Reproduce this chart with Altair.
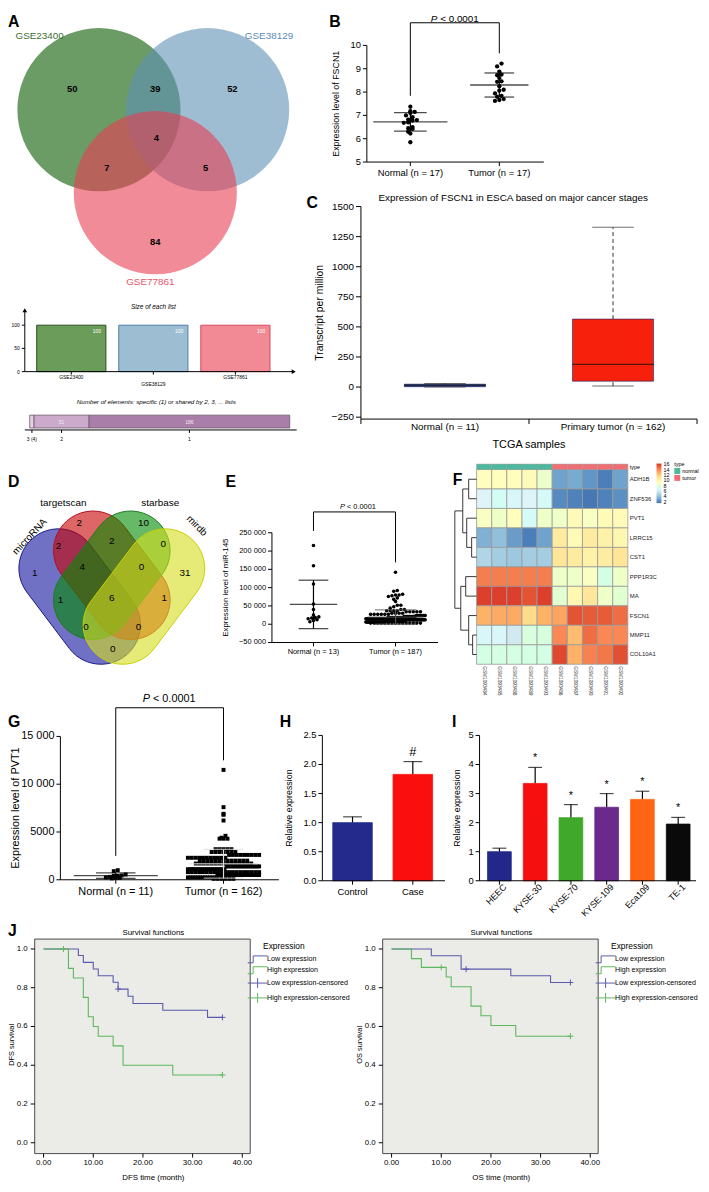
import altair as alt
import numpy as np
import pandas as pd

# ============================ DATA ============================
# A: three GEO datasets
venn3_sets = ["GSE23400", "GSE38129", "GSE77861"]
venn3_region_counts = [50, 39, 52, 4, 7, 5, 84]
list_sizes = [100, 100, 100]
size_ticks = [0, 50, 100]
shared_by = ["3", "2", "1"]
shared_tick_labels = ["3 (4)", "2", "1"]
shared_counts = [4, 51, 186]

# B: FSCN1 expression
fscn1_groups = ["Normal (n = 17)", "Tumor (n = 17)"]
fscn1_normal = [7.37, 7.18, 7.15, 7.10, 7.00, 6.92, 6.82, 6.80, 6.78, 6.70, 6.68, 6.50, 6.45, 6.42, 6.30, 6.22, 5.85]
fscn1_tumor = [9.22, 9.10, 8.88, 8.75, 8.72, 8.60, 8.46, 8.44, 8.25, 8.10, 8.06, 7.94, 7.84, 7.80, 7.70, 7.66, 7.62]
fscn1_ticks = [5, 6, 7, 8, 9, 10]
fscn1_tick_labels = ["5", "6", "7", "8", "9", "10"]

# C: TCGA box plot statistics
tcga_groups = ["Normal (n = 11)", "Primary tumor (n = 162)"]
tcga_min = [1, 8]
tcga_q1 = [3, 49]
tcga_median = [16, 189]
tcga_q3 = [24, 565]
tcga_max = [30, 1328]
tcga_ticks = [-250, 0, 250, 500, 750, 1000, 1250, 1500]
tcga_tick_labels = ["\u2212250", "0", "250", "500", "750", "1000", "1250", "1500"]

# D: four prediction databases
venn4_sets = ["microRNA", "targetscan", "starbase", "mirdb"]
venn4_region_counts = [1, 2, 10, 31, 2, 2, 0, 4, 0, 1, 6, 1, 0, 0, 0]

# E: miR-145
mir_groups = ["Normal (n = 13)", "Tumor (n = 187)"]
mir_normal = [215000, 160000, 110000, 55000, 40000, 25000, 20000, 18000, 17000, 15000, 12000, 10000, 7000]
mir_tumor_levels = [142000, 92000, 90000, 82000, 80000, 78000, 76000, 72000, 68000, 62000,
                    52000, 48000, 44000, 40000, 37000, 34000, 30000,
                    27000, 24000, 21000, 18000, 15000, 12000, 9000, 6000, 3000]
mir_tumor_counts = [1, 1, 1, 1, 2, 1, 1, 1, 1, 1,
                    2, 1, 1, 2, 4, 5, 4,
                    6, 10, 12, 16, 22, 26, 26, 24, 15]
mir_ticks = [-50000, 0, 50000, 100000, 150000, 200000, 250000]
mir_tick_labels = ["\u221250 000", "0", "50 000", "100 000", "150 000", "200 000", "250 000"]

# F: heatmap
heat_genes = ["ADH1B", "ZNF536", "PVT1", "LRRC15", "CST1", "PPP1R3C", "MA", "FSCN1", "MMP11", "COL10A1"]
heat_samples = ["GSM1093484", "GSM1093485", "GSM1093488", "GSM1093489", "GSM1093493",
                "GSM1093486", "GSM1093487", "GSM1093490", "GSM1093491", "GSM1093492"]
heat_types = ["normal", "normal", "normal", "normal", "normal", "tumor", "tumor", "tumor", "tumor", "tumor"]
heat_values = [
    [9.0, 9.0, 9.0, 9.3, 8.5, 3.0, 3.3, 2.6, 1.8, 3.0],
    [6.5, 7.2, 6.8, 6.6, 7.0, 2.2, 1.9, 1.6, 1.9, 2.4],
    [8.8, 8.6, 9.0, 7.0, 8.6, 8.6, 9.3, 8.8, 9.3, 9.3],
    [3.5, 4.0, 2.8, 1.8, 3.0, 10.5, 9.3, 10.5, 10.0, 9.6],
    [5.0, 4.6, 4.4, 4.6, 4.6, 11.0, 10.5, 10.0, 10.4, 11.0],
    [14.3, 14.3, 14.3, 14.3, 14.3, 8.6, 8.6, 8.8, 7.8, 8.6],
    [16.0, 16.0, 16.0, 15.5, 16.0, 8.3, 9.5, 10.8, 8.6, 8.3],
    [12.8, 13.0, 13.0, 11.5, 12.8, 13.2, 15.5, 15.3, 15.3, 14.8],
    [6.8, 6.8, 6.0, 8.0, 8.0, 14.0, 12.5, 14.8, 14.0, 14.0],
    [7.8, 7.8, 7.8, 7.8, 7.8, 15.8, 12.8, 14.2, 14.5, 15.6],
]
heat_legend_values = [2, 4, 6, 8, 10, 12, 14, 16]
# row dendrogram merges: (cluster a, cluster b, height)
dendro_merges = [(0, 1, 8), (3, 4, 5), (2, 11, 10), (10, 12, 14), (8, 9, 4),
                 (7, 14, 8), (5, 6, 11), (16, 15, 16), (13, 17, 22)]

# G: PVT1
pvt1_groups = ["Normal (n = 11)", "Tumor (n = 162)"]
pvt1_normal = [1000, 900, 550, 450, 400, 400, 300, 250, 200, 200, 150]
pvt1_tumor_levels = [11500, 7600, 6900, 6800, 6200, 4600, 4400, 4300, 3200, 2900,
                     2600, 2300, 2000, 1700, 1400, 1100, 800, 500, 250, 100]
pvt1_tumor_counts = [1, 1, 1, 1, 1, 1, 1, 3, 5, 7,
                     9, 11, 13, 15, 17, 19, 20, 18, 12, 6]
pvt1_ticks = [0, 5000, 10000, 15000]
pvt1_tick_labels = ["0", "5000", "10 000", "15 000"]

# H
h_groups = ["Control", "Case"]
h_means = [1.0, 1.83]
h_errors = [0.10, 0.22]
h_marks = ["", "#"]
h_ticks = [0, 0.5, 1.0, 1.5, 2.0, 2.5]
h_tick_labels = ["0.0", "0.5", "1.0", "1.5", "2.0", "2.5"]

# I
i_lines = ["HEEC", "KYSE-30", "KYSE-70", "KYSE-109", "Eca109", "TE-1"]
i_means = [1.0, 3.35, 2.17, 2.53, 2.80, 1.95]
i_errors = [0.12, 0.55, 0.45, 0.47, 0.28, 0.23]
i_marks = ["", "*", "*", "*", "*", "*"]
i_ticks = [0, 1, 2, 3, 4, 5]
i_tick_labels = ["0", "1", "2", "3", "4", "5"]

# J: Kaplan-Meier
km_groups = ["Low expression", "High expression"]
km_legend = ["Low expression", "High expression", "Low expression-censored", "High expression-censored"]
km_x_ticks = [0, 10, 20, 30, 40]
km_x_tick_labels = ["0.00", "10.00", "20.00", "30.00", "40.00"]
km_y_ticks = [0.0, 0.2, 0.4, 0.6, 0.8, 1.0]
km_y_tick_labels = ["0.0", "0.2", "0.4", "0.6", "0.8", "1.0"]
dfs_low_t = [0, 7, 8, 10, 11, 14, 15, 17, 18, 24, 33, 36]
dfs_low_s = [1.0, 0.966, 0.931, 0.897, 0.862, 0.828, 0.793, 0.756, 0.719, 0.684, 0.647, 0.647]
dfs_high_t = [0, 5, 6, 8, 9, 10, 11, 14, 16, 26, 36]
dfs_high_s = [1.0, 0.90, 0.85, 0.75, 0.65, 0.60, 0.55, 0.50, 0.40, 0.35, 0.35]
dfs_low_cens_t = [15, 36]
dfs_low_cens_s = [0.793, 0.647]
dfs_high_cens_t = [4, 36]
dfs_high_cens_s = [1.0, 0.35]
os_low_t = [0, 8, 14, 24, 32, 36]
os_low_s = [1.0, 0.965, 0.896, 0.862, 0.827, 0.827]
os_high_t = [0, 4, 6, 11, 12, 16, 18, 20, 25, 36]
os_high_s = [1.0, 0.95, 0.905, 0.855, 0.805, 0.705, 0.655, 0.605, 0.55, 0.55]
os_low_cens_t = [15, 36]
os_low_cens_s = [0.896, 0.827]
os_high_cens_t = [10, 36]
os_high_cens_s = [0.905, 0.55]

# ============================ LAYOUT / STYLE ============================
FONT = "Liberation Sans"
W, H = 701, 1184


def X(v):
    return v - 8


def Y(v):
    return v - 8


ONE = pd.DataFrame({"a": [0]})


def note(text, x, y, size=10, color="black", **kw):
    return alt.Chart(pd.DataFrame({"t": [text]})).mark_text(
        font=FONT, fontSize=size, color=color, **kw).encode(
        x=alt.value(X(x)), y=alt.value(Y(y)), text="t:N")


def p_note(cx, y, size):
    # "P < 0.0001" with an italic P, centred at cx
    total = 4.865 * size
    start = cx - total / 2
    return [note("P", start, y, size=size, align="left", fontStyle="italic"),
            note("< 0.0001", start + 0.945 * size, y, size=size, align="left")]


def hline(x0, x1, y, color="black", width=1):
    return alt.Chart(ONE).mark_rule(color=color, strokeWidth=width).encode(
        x=alt.value(X(x0)), x2=alt.value(X(x1)), y=alt.value(Y(y)))


def vline(x, y0, y1, color="black", width=1):
    return alt.Chart(ONE).mark_rule(color=color, strokeWidth=width).encode(
        x=alt.value(X(x)), y=alt.value(Y(y0)), y2=alt.value(Y(y1)))


def yaxis(scale, values, labels, xp, ytop, ybot, tick=4, pad=2, fs=10, domain=True, vtype="Q"):
    df = pd.DataFrame({"tv": values, "tl": labels})
    out = []
    if domain:
        out.append(vline(xp, ytop, ybot))
    out.append(alt.Chart(df).mark_rule(color="black", strokeWidth=1).encode(
        y=alt.Y(f"tv:{vtype}", scale=scale, axis=None), x=alt.value(X(xp) - tick), x2=alt.value(X(xp))))
    out.append(alt.Chart(df).mark_text(font=FONT, fontSize=fs, align="right", baseline="middle",
                                       color="black").encode(
        y=alt.Y(f"tv:{vtype}", scale=scale, axis=None), x=alt.value(X(xp) - tick - pad), text="tl:N"))
    return out


def xaxis(scale, values, labels, yp, x0, x1, tick=4, pad=2, fs=10, domain=True, vtype="Q", angle=0,
          align="center", baseline="top", dx=0, ticks=True):
    df = pd.DataFrame({"tv": values, "tl": labels})
    out = []
    if domain:
        out.append(hline(x0, x1, yp))
    if ticks:
        out.append(alt.Chart(df).mark_rule(color="black", strokeWidth=1).encode(
            x=alt.X(f"tv:{vtype}", scale=scale, axis=None), y=alt.value(Y(yp)), y2=alt.value(Y(yp) + tick)))
    out.append(alt.Chart(df).mark_text(font=FONT, fontSize=fs, align=align, baseline=baseline, angle=angle,
                                       dx=dx, color="black").encode(
        x=alt.X(f"tv:{vtype}", scale=scale, axis=None), y=alt.value(Y(yp) + (tick if ticks else 0) + pad),
        text="tl:N"))
    return out


def ytitle(text, x, y, size=10):
    return note(text, x, y, size=size, angle=270)


def swarm(values, px_per_unit, dia, half_width):
    v = np.asarray(values, float)
    b = np.floor(v * px_per_unit / dia + 0.5)
    off = np.zeros(len(v))
    for key in np.unique(b):
        idx = np.where(b == key)[0]
        idx = idx[np.argsort(v[idx], kind="stable")]
        n = len(idx)
        if n > 1:
            step = min(dia, 2 * half_width / (n - 1))
            off[idx] = (np.arange(n) - (n - 1) / 2) * step
    return off


# ---------------- Panel A: Venn ----------------
def panel_A_venn():
    R = 82.5
    cx0, cy0 = 100, 104
    xs = alt.Scale(domain=[-1, 1], range=[X(cx0 - R), X(cx0 + R)], nice=False, zero=False)
    ys = alt.Scale(domain=[-1, 1], range=[Y(cy0 + R), Y(cy0 - R)], nice=False, zero=False)
    circ = pd.DataFrame({"set": venn3_sets, "cx": [0.0, 1.333, 0.691], "cy": [0.0, 0.0, -1.018]})
    circles = alt.Chart(circ).mark_circle(size=(2 * R) ** 2, opacity=0.6).encode(
        x=alt.X("cx:Q", scale=xs, axis=None), y=alt.Y("cy:Q", scale=ys, axis=None),
        color=alt.Color("set:N", scale=alt.Scale(domain=venn3_sets, range=["#0a5a00", "#5d91b6", "#e93e53"]),
                        legend=None))
    reg = pd.DataFrame({"n": venn3_region_counts,
                        "ux": [-0.327, 0.691, 1.636, 0.703, 0.097, 1.309, 0.691],
                        "uy": [0.255, 0.255, 0.255, -0.352, -0.715, -0.715, -1.624]})
    nums = alt.Chart(reg).mark_text(font=FONT, fontSize=9.5, fontWeight="bold", color="black").encode(
        x=alt.X("ux:Q", scale=xs, axis=None), y=alt.Y("uy:Q", scale=ys, axis=None), text="n:Q")
    labs = pd.DataFrame({"set": venn3_sets, "ux": [-0.727, 2.085, 0.63], "uy": [0.897, 0.897, -2.109]})
    names = alt.Chart(labs).mark_text(font=FONT, fontSize=10).encode(
        x=alt.X("ux:Q", scale=xs, axis=None), y=alt.Y("uy:Q", scale=ys, axis=None), text="set:N",
        color=alt.Color("set:N", scale=alt.Scale(domain=venn3_sets, range=["#3f6e33", "#5b8db5", "#e4566c"]),
                        legend=None))
    return alt.layer(circles, nums, names).resolve_scale(color="independent")


def panel_A_sizes():
    xs = alt.Scale(type="band", domain=venn3_sets, range=[X(25), X(297)], paddingInner=0,
                   paddingOuter=0.1386, align=0.24)
    ys = alt.Scale(domain=[0, 132], range=[Y(369), Y(307)], nice=False, zero=False)
    df = pd.DataFrame({"set": venn3_sets, "size": list_sizes})
    bars = alt.Chart(df).mark_bar(size=70, strokeWidth=1).encode(
        x=alt.X("set:N", scale=xs, axis=None),
        y=alt.Y("size:Q", scale=ys, axis=None),
        fill=alt.Fill("set:N", scale=alt.Scale(domain=venn3_sets, range=["#6c9c5a", "#9dbdd3", "#f28a96"]),
                      legend=None),
        stroke=alt.Stroke("set:N", scale=alt.Scale(domain=venn3_sets, range=["#274d1c", "#4d7ea8", "#d8485e"]),
                          legend=None))
    lbl = alt.Chart(df).mark_text(font=FONT, fontSize=5, color="white", dx=26, dy=6).encode(
        x=alt.X("set:N", scale=xs, axis=None), y=alt.Y("size:Q", scale=ys, axis=None), text="size:Q")
    up = alt.Chart(ONE).mark_point(shape="triangle-up", filled=True, size=22, color="black", opacity=1).encode(
        x=alt.value(X(25)), y=alt.value(Y(307)))
    right = alt.Chart(ONE).mark_point(shape="triangle-right", filled=True, size=22, color="black",
                                      opacity=1).encode(x=alt.value(X(297)), y=alt.value(Y(369)))
    yax = yaxis(ys, size_ticks, [str(v) for v in size_ticks], 25, 307, 369, tick=3, pad=2, fs=5)
    xdf = pd.DataFrame({"tv": venn3_sets})
    xline = hline(25, 297, 369)
    xt = alt.Chart(xdf).mark_rule(color="black").encode(
        x=alt.X("tv:N", scale=xs, axis=None), y=alt.value(Y(369)), y2=alt.value(Y(372)))
    xl1 = alt.Chart(xdf).transform_filter("datum.tv != 'GSE38129'").mark_text(
        font=FONT, fontSize=5, baseline="top", color="black").encode(
        x=alt.X("tv:N", scale=xs, axis=None), y=alt.value(Y(372)), text="tv:N")
    xl2 = alt.Chart(xdf).transform_filter("datum.tv == 'GSE38129'").mark_text(
        font=FONT, fontSize=5, baseline="top", color="black").encode(
        x=alt.X("tv:N", scale=xs, axis=None), y=alt.value(Y(380)), text="tv:N")
    return alt.layer(bars, lbl, up, right, *yax, xline, xt, xl1, xl2)


def panel_A_shared():
    xs = alt.Scale(domain=[0, sum(shared_counts)], range=[X(30), X(293)], nice=False, zero=False)
    ys = alt.Scale(type="band", domain=["n"], range=[Y(413), Y(426)], paddingInner=0, paddingOuter=0)
    df = pd.DataFrame({"lvl": shared_by, "tick": shared_tick_labels, "cnt": shared_counts,
                       "ord": [0, 1, 2], "row": ["n", "n", "n"]})
    base = alt.Chart(df).transform_stack(
        stack="cnt", groupby=["row"], as_=["s0", "s1"], sort=[alt.SortField("ord", order="ascending")]
    ).transform_calculate(mid="(datum.s0 + datum.s1) / 2")
    bars = base.mark_bar(stroke="#6b566b", strokeWidth=0.8).encode(
        x=alt.X("s0:Q", scale=xs, axis=None), x2="s1:Q", y=alt.Y("row:N", scale=ys, axis=None),
        color=alt.Color("lvl:N", scale=alt.Scale(domain=shared_by, range=["#e3d0e2", "#ccaacb", "#a97ea8"]),
                        legend=None))
    txt = base.transform_filter("datum.cnt > 10").mark_text(font=FONT, fontSize=5, color="#f5eaf5").encode(
        x=alt.X("mid:Q", scale=xs, axis=None), y=alt.Y("row:N", scale=ys, axis=None), text="cnt:Q")
    line = hline(25, 300, 428)
    ticks = base.mark_rule(color="black", strokeWidth=1).encode(
        x=alt.X("mid:Q", scale=xs, axis=None), y=alt.value(Y(428)), y2=alt.value(Y(431)))
    tl = base.mark_text(font=FONT, fontSize=5, color="black").encode(
        x=alt.X("mid:Q", scale=xs, axis=None), y=alt.value(Y(437)), text="tick:N")
    return alt.layer(bars, txt, line, ticks, tl)


# ---------------- dot plots (B, E, G) ----------------
def dot_panel(p):
    g0, g1 = p["centers"]
    ppx = g1 - g0
    xa, xb = p["xspan"]
    ylo, yhi = p["ydom"]
    yb, yt = p["ypix"]
    ppy = (yb - yt) / (yhi - ylo)
    xs = alt.Scale(domain=[(xa - g0) / ppx, (xb - g0) / ppx], range=[X(xa), X(xb)], nice=False, zero=False)
    ys = alt.Scale(domain=[ylo, yhi], range=[Y(yb), Y(yt)], nice=False, zero=False)
    recs = []
    for gi, vals in enumerate(p["samples"]):
        off = swarm(vals, ppy, p["dia"], p["half"][gi])
        for v, o in zip(vals, off):
            recs.append({"g": gi, "v": float(v), "xo": gi + o / ppx})
    df = pd.DataFrame(recs)
    pts = getattr(alt.Chart(df), p["mark"])(size=p["msize"], color="black", opacity=1).encode(
        x=alt.X("xo:Q", scale=xs, axis=None), y=alt.Y("v:Q", scale=ys, axis=None))
    stats = alt.Chart(df).transform_aggregate(
        m="mean(v)", s="stdev(v)", groupby=["g"]).transform_calculate(
        lo="datum.m - datum.s", hi="datum.m + datum.s")
    lc = alt.condition("datum.g == 0", alt.value(p["lc"][0]), alt.value(p["lc"][1]))
    xg = alt.X("g:Q", scale=xs, axis=None)
    vl = stats.mark_rule(strokeWidth=1.2).encode(x=xg, y=alt.Y("lo:Q", scale=ys, axis=None), y2="hi:Q", color=lc)
    mean_t = stats.mark_tick(orient="horizontal", thickness=1.4).encode(
        x=xg, y=alt.Y("m:Q", scale=ys, axis=None), color=lc,
        size=alt.condition("datum.g == 0", alt.value(p["meanw"][0]), alt.value(p["meanw"][1])))
    lo_t = stats.mark_tick(orient="horizontal", thickness=1.3).encode(
        x=xg, y=alt.Y("lo:Q", scale=ys, axis=None), color=lc,
        size=alt.condition("datum.g == 0", alt.value(p["capw"][0]), alt.value(p["capw"][1])))
    hi_t = stats.mark_tick(orient="horizontal", thickness=1.3).encode(
        x=xg, y=alt.Y("hi:Q", scale=ys, axis=None), color=lc,
        size=alt.condition("datum.g == 0", alt.value(p["capw"][0]), alt.value(p["capw"][1])))
    leg0, top, leg1 = p["bracket"]
    dfb = pd.DataFrame({"bx": [0, 0, 1, 1], "by": [leg0, top, top, leg1], "o": [0, 1, 2, 3]})
    br = alt.Chart(dfb).mark_line(color="black", strokeWidth=1).encode(
        x=alt.X("bx:Q", scale=xs, axis=None), y=alt.Y("by:Q", scale=ys, axis=None), order="o:Q")
    yax = yaxis(ys, p["yticks"], p["ylabels"], xa, yt, yb, tick=4, pad=2, fs=p["fs"])
    xax = xaxis(xs, [0, 1], p["names"], yb, xa, xb, tick=4, pad=2, fs=p["fs"])
    title = ytitle(p["ytitle"], p["tx"], (yb + yt) / 2, size=p["tfs"])
    return alt.layer(pts, vl, mean_t, lo_t, hi_t, br, *yax, *xax, title)


def panel_B():
    return dot_panel(dict(
        samples=[fscn1_normal, fscn1_tumor], names=fscn1_groups, centers=(415, 505), xspan=(371, 550),
        ydom=(5, 10), ypix=(157, 39), yticks=fscn1_ticks, ylabels=fscn1_tick_labels, fs=9.5, tfs=9, tx=340,
        ytitle="Expression level of FSCN1", mark="mark_circle", msize=19, dia=4.4, half=(12, 12),
        meanw=(75, 59), capw=(33, 30), lc=("black", "black"), bracket=(7.84, 10.97, 9.66)))


def panel_E():
    tumor = np.repeat(mir_tumor_levels, mir_tumor_counts).tolist()
    return dot_panel(dict(
        samples=[mir_normal, tumor], names=mir_groups, centers=(317, 400), xspan=(275, 443),
        ydom=(-50000, 250000), ypix=(643, 532), yticks=mir_ticks, ylabels=mir_tick_labels,
        fs=7.5, tfs=8, tx=229, ytitle="Expression level of miR-145", mark="mark_circle", msize=13,
        dia=3.6, half=(12, 30), meanw=(48, 57), capw=(30, 42), lc=("black", "#555555"),
        bracket=(255000, 307000, 169000)))


def panel_G():
    tumor = np.repeat(pvt1_tumor_levels, pvt1_tumor_counts).tolist()
    return dot_panel(dict(
        samples=[pvt1_normal, tumor], names=pvt1_groups, centers=(117, 226), xspan=(61, 282),
        ydom=(0, 15000), ypix=(883, 738), yticks=pvt1_ticks, ylabels=pvt1_tick_labels,
        fs=11, tfs=11, tx=16, ytitle="Expression level of PVT1", mark="mark_square", msize=16,
        dia=4.0, half=(28, 36), meanw=(85, 70), capw=(40, 40), lc=("black", "#dddddd"),
        bracket=(2500, 18000, 12500)))


# ---------------- Panel C: boxplot ----------------
def panel_C():
    xs = alt.Scale(type="band", domain=tcga_groups, range=[X(365), X(705)], paddingInner=0, paddingOuter=0)
    ys = alt.Scale(domain=[-266, 1500], range=[Y(417), Y(202)], nice=False, zero=False)
    df = pd.DataFrame({"grp": tcga_groups, "lo": tcga_min, "q1": tcga_q1, "med": tcga_median,
                       "q3": tcga_q3, "hi": tcga_max})
    fill = alt.Color("grp:N", scale=alt.Scale(domain=tcga_groups, range=["#28357e", "#f7200d"]), legend=None)
    xg = alt.X("grp:N", scale=xs, axis=None)
    box = alt.Chart(df).mark_bar(size=82, stroke="#1b2466", strokeWidth=0.6).encode(
        x=xg, y=alt.Y("q1:Q", scale=ys, axis=None), y2="q3:Q", color=fill)
    up = alt.Chart(df).mark_rule(strokeDash=[4, 3], color="#333333", strokeWidth=1).encode(
        x=xg, y=alt.Y("q3:Q", scale=ys, axis=None), y2="hi:Q")
    dn = alt.Chart(df).mark_rule(strokeDash=[4, 3], color="#333333", strokeWidth=1).encode(
        x=xg, y=alt.Y("lo:Q", scale=ys, axis=None), y2="q1:Q")
    cap_hi = alt.Chart(df).mark_tick(orient="horizontal", size=42, thickness=1, color="#333333").encode(
        x=xg, y=alt.Y("hi:Q", scale=ys, axis=None))
    cap_lo = alt.Chart(df).mark_tick(orient="horizontal", size=42, thickness=1, color="#333333").encode(
        x=xg, y=alt.Y("lo:Q", scale=ys, axis=None))
    med = alt.Chart(df).mark_tick(orient="horizontal", size=83, thickness=1.3, color="#111111").encode(
        x=xg, y=alt.Y("med:Q", scale=ys, axis=None))
    yax = yaxis(ys, tcga_ticks, tcga_tick_labels, 365, 202, 417, tick=5, pad=2, fs=10)
    xline = hline(365, 705, 417)
    gdf = pd.DataFrame({"tv": tcga_groups})
    tk0 = alt.Chart(gdf).mark_rule(color="black").encode(
        x=alt.X("tv:N", scale=xs, axis=None, bandPosition=0), y=alt.value(Y(417)), y2=alt.value(Y(422)))
    tk1 = alt.Chart(gdf).transform_filter(f"datum.tv == '{tcga_groups[-1]}'").mark_rule(color="black").encode(
        x=alt.X("tv:N", scale=xs, axis=None, bandPosition=1), y=alt.value(Y(417)), y2=alt.value(Y(422)))
    xl = alt.Chart(gdf).mark_text(font=FONT, fontSize=10, baseline="top", color="black").encode(
        x=alt.X("tv:N", scale=xs, axis=None), y=alt.value(Y(420)), text="tv:N")
    return alt.layer(box, up, dn, cap_hi, cap_lo, med, *yax, xline, tk0, tk1, xl,
                     ytitle("Transcript per million", 324, 309.5, size=10.5),
                     note("TCGA samples", 535, 443, size=11))


# ---------------- Panel D: four-set Venn ----------------
def capsule_path(p1, p2, r, n=24):
    p1 = np.array(p1, float)
    p2 = np.array(p2, float)
    c = (p1 + p2) / 2
    d = p2 - p1
    h = np.hypot(d[0], d[1]) / 2
    ang = np.arctan2(d[1], d[0])
    pts = []
    for t in np.linspace(-np.pi / 2, np.pi / 2, n):
        pts.append((h + r * np.cos(t), r * np.sin(t)))
    for t in np.linspace(np.pi / 2, 3 * np.pi / 2, n):
        pts.append((-h + r * np.cos(t), r * np.sin(t)))
    ca, sa = np.cos(ang), np.sin(ang)
    rp = [(x * ca - y * sa, x * sa + y * ca) for x, y in pts]
    path = "M " + " L ".join(f"{x:.2f} {y:.2f}" for x, y in rp) + " Z"
    return c, path


def panel_D():
    xs = alt.Scale(domain=[0, 230], range=[X(0), X(230)], nice=False, zero=False)
    ys = alt.Scale(domain=[480, 680], range=[Y(480), Y(680)], nice=False, zero=False)
    caps = [((59, 568), (102, 625)), ((94, 550), (132, 600)), ((132, 550), (94, 600)), ((167, 568), (124, 625))]
    res = [capsule_path(a, b, 40) for a, b in caps]
    df = pd.DataFrame({"set": venn4_sets, "cx": [c[0] for c, _ in res], "cy": [c[1] for c, _ in res]})
    shapes = alt.Chart(df).mark_point(filled=True, size=4, opacity=1, fillOpacity=0.6, strokeWidth=1).encode(
        x=alt.X("cx:Q", scale=xs, axis=None), y=alt.Y("cy:Q", scale=ys, axis=None),
        shape=alt.Shape("set:N", scale=alt.Scale(domain=venn4_sets, range=[p for _, p in res]), legend=None),
        fill=alt.Fill("set:N", scale=alt.Scale(domain=venn4_sets,
                                               range=["#11119d", "#c80000", "#008a00", "#d5de1e"]), legend=None),
        stroke=alt.Stroke("set:N", scale=alt.Scale(domain=venn4_sets,
                                                   range=["#1a1a8c", "#b01020", "#1f7a1f", "#c8d000"]), legend=None))
    reg = pd.DataFrame({
        "n": venn4_region_counts,
        "rx": [35, 80, 145, 187, 59, 113, 165, 83, 143, 61, 113, 166, 87, 140, 114],
        "ry": [573, 522, 522, 573, 545, 540, 543, 567, 567, 600, 598, 598, 627, 627, 650]})
    nums = alt.Chart(reg).mark_text(font=FONT, fontSize=10, color="black").encode(
        x=alt.X("rx:Q", scale=xs, axis=None), y=alt.Y("ry:Q", scale=ys, axis=None), text="n:Q")
    layers = [shapes, nums]
    label_pos = [(30, 536, 313), (64, 502, 0), (162, 502, 0), (199, 525, 45)]
    for name, (lx, ly, la) in zip(venn4_sets, label_pos):
        layers.append(alt.Chart(pd.DataFrame({"t": [name], "lx": [lx], "ly": [ly]})).mark_text(
            font=FONT, fontSize=10, angle=la, color="black").encode(
            x=alt.X("lx:Q", scale=xs, axis=None), y=alt.Y("ly:Q", scale=ys, axis=None), text="t:N"))
    return alt.layer(*layers)


# ---------------- Panel F: heatmap ----------------
HEAT_COLORS = ["#4575b4", "#91bfdb", "#e0f3f8", "#ffffbf", "#fee090", "#fc8d59", "#d73027"]


def panel_F():
    recs = []
    for gi, g in enumerate(heat_genes):
        for si, s in enumerate(heat_samples):
            recs.append({"gene": g, "sample": s, "value": heat_values[gi][si]})
    df = pd.DataFrame(recs)
    xs = alt.Scale(type="band", domain=heat_samples, range=[X(482), X(635)], paddingInner=0, paddingOuter=0)
    ys = alt.Scale(type="band", domain=heat_genes, range=[Y(468), Y(665)], paddingInner=0, paddingOuter=0)
    col = alt.Scale(domain=[float(v) for v in np.linspace(1.5, 16.3, 7)], range=HEAT_COLORS)
    heat = alt.Chart(df).mark_rect(stroke="#9a9a9a", strokeWidth=0.8).encode(
        x=alt.X("sample:N", scale=xs, axis=None),
        y=alt.Y("gene:N", scale=ys, axis=None),
        color=alt.Color("value:Q", scale=col, legend=alt.Legend(
            orient="none", legendX=X(664), legendY=Y(462), direction="vertical", title=None,
            gradientLength=40, gradientThickness=5, values=heat_legend_values, labelFontSize=5.5,
            labelFont=FONT, labelOffset=2, padding=0, gradientStrokeWidth=0, labelOverlap=False)))
    tdf = pd.DataFrame({"sample": heat_samples, "type": heat_types})
    tbar = alt.Chart(tdf).mark_rect(stroke="#9a9a9a", strokeWidth=0.5).encode(
        x=alt.X("sample:N", scale=xs, axis=None), y=alt.value(Y(462.5)), y2=alt.value(Y(468)),
        color=alt.Color("type:N", scale=alt.Scale(domain=["normal", "tumor"], range=["#4cb89d", "#ee6e74"]),
                        legend=alt.Legend(orient="none", legendX=X(682), legendY=Y(460), title="type",
                                          titleFontSize=5.5, titleFont=FONT, titleFontWeight="normal",
                                          labelFontSize=5.5, labelFont=FONT, symbolType="square",
                                          symbolSize=36, rowPadding=0, titlePadding=1, padding=0,
                                          labelOffset=2, symbolStrokeWidth=0)))
    rl = alt.Chart(pd.DataFrame({"g": heat_genes})).mark_text(
        font=FONT, fontSize=6, align="left", baseline="middle", color="#222222").encode(
        y=alt.Y("g:N", scale=ys, axis=None), x=alt.value(X(637)), text="g:N")
    cl = alt.Chart(pd.DataFrame({"s": heat_samples})).mark_text(
        font=FONT, fontSize=4.8, align="left", baseline="middle", angle=90, color="#333333").encode(
        x=alt.X("s:N", scale=xs, axis=None), y=alt.value(Y(667)), text="s:N")
    return alt.layer(heat, tbar, rl, cl).resolve_scale(color="independent").resolve_legend(color="independent")


def panel_F_dendro():
    pos = {i: (float(i), 0.0) for i in range(len(heat_genes))}
    segs = []
    nid = len(heat_genes)
    for a, b, h in dendro_merges:
        ya, ha = pos[a]
        yb, hb = pos[b]
        segs.append((ha, h, ya, ya))
        segs.append((hb, h, yb, yb))
        segs.append((h, h, ya, yb))
        pos[nid] = ((ya + yb) / 2, float(h))
        nid += 1
    df = pd.DataFrame(segs, columns=["x1", "x2", "y1", "y2"])
    xs = alt.Scale(domain=[0, 24], range=[X(482), X(458)], nice=False, zero=False)
    ys = alt.Scale(domain=[-0.5, 9.5], range=[Y(468), Y(665)], nice=False, zero=False)
    return alt.Chart(df).mark_rule(color="#222222", strokeWidth=0.9).encode(
        x=alt.X("x1:Q", scale=xs, axis=None), x2="x2:Q",
        y=alt.Y("y1:Q", scale=ys, axis=None), y2="y2:Q")


# ---------------- bar panels H and I ----------------
def bar_panel(groups, means, errs, marks, colors, xr, width, capw, ydom, yticks, ylabels, xaxis_y, yaxis_x,
              ytop, mark_fs, mark_dy, label_fs, title_x, rotate):
    xs = alt.Scale(type="band", domain=groups, range=[X(xr[0]), X(xr[1])], paddingInner=0, paddingOuter=0)
    ys = alt.Scale(domain=ydom, range=[Y(xaxis_y), Y(ytop)], nice=False, zero=False)
    df = pd.DataFrame({"grp": groups, "m": means, "e": errs, "sig": marks})
    base = alt.Chart(df).transform_calculate(hi="datum.m + datum.e")
    xg = alt.X("grp:N", scale=xs, axis=None)
    bars = base.mark_bar(size=width, strokeWidth=0.8).encode(
        x=xg, y=alt.Y("m:Q", scale=ys, axis=None),
        color=alt.Color("grp:N", scale=alt.Scale(domain=groups, range=colors), legend=None),
        stroke=alt.Stroke("grp:N", scale=alt.Scale(domain=groups, range=colors), legend=None))
    err = base.mark_rule(color="black", strokeWidth=1.2).encode(
        x=xg, y=alt.Y("m:Q", scale=ys, axis=None), y2="hi:Q")
    cap = base.mark_tick(orient="horizontal", size=capw, thickness=1.2, color="black").encode(
        x=xg, y=alt.Y("hi:Q", scale=ys, axis=None))
    sig = base.mark_text(font=FONT, fontSize=mark_fs, color="black", dy=mark_dy).encode(
        x=xg, y=alt.Y("hi:Q", scale=ys, axis=None), text="sig:N")
    yax = yaxis(ys, yticks, ylabels, yaxis_x, ytop, xaxis_y, tick=4, pad=2, fs=9.5)
    if rotate:
        xax = xaxis(xs, groups, groups, xaxis_y, yaxis_x, xr[1], tick=4, pad=1, fs=label_fs, vtype="N",
                    angle=315, align="right", baseline="top", dx=4)
    else:
        xax = xaxis(xs, groups, groups, xaxis_y, yaxis_x, xr[1] + 2, tick=4, pad=2, fs=label_fs, vtype="N")
    title = ytitle("Relative expression", title_x, (xaxis_y + ytop) / 2, size=9)
    return alt.layer(err, bars, cap, sig, *yax, *xax, title)


def panel_H():
    return bar_panel(h_groups, h_means, h_errors, h_marks, ["#232a8c", "#fb0e0e"], (326, 448), 40, 19,
                     [0, 2.5], h_ticks, h_tick_labels, 884, 326, 737, 13, -10, 9.5, 292, False)


def panel_I():
    return bar_panel(i_lines, i_means, i_errors, i_marks,
                     ["#22288a", "#f50f0f", "#40a92b", "#6a2a8c", "#ff6414", "#0a0a0a"], (487, 704), 24, 14,
                     [0, 5], i_ticks, i_tick_labels, 884, 485, 737, 11, -9, 9, 462, True)


# ---------------- Panel J: Kaplan-Meier ----------------
C_LOW, C_HIGH = "#5a5aaa", "#5cb85c"
PLUS = "M -1 0 L 1 0 M 0 -1 L 0 1"
LEG_STEP = "M -2 0.7 L -0.9 0.7 L -0.9 -0.7 L 2 -0.7"
LEG_PLUS = "M -2 0 L 2 0 M 0 -1 L 0 1"


def km_panel(ox, lo_t, lo_s, hi_t, hi_s, lct, lcs, hct, hcs, xtitle, ytitle_text):
    x0 = ox + 9
    ppm = 5.025
    xs = alt.Scale(domain=[(ox - x0) / ppm, (ox + 218 - x0) / ppm], range=[X(ox), X(ox + 218)],
                   nice=False, zero=False)
    ys = alt.Scale(domain=[-0.056, 1.051], range=[Y(1160), Y(943)], nice=False, zero=False)
    box = pd.DataFrame({"a": [(ox - x0) / ppm], "b": [(ox + 218 - x0) / ppm], "c": [-0.056], "d": [1.051]})
    frame = alt.Chart(box).mark_rect(fill="#ebebe8", stroke="#4a4a4a", strokeWidth=1).encode(
        x=alt.X("a:Q", scale=xs, axis=None), x2="b:Q", y=alt.Y("c:Q", scale=ys, axis=None), y2="d:Q")
    curves = pd.DataFrame({"grp": [km_groups[0]] * len(lo_t) + [km_groups[1]] * len(hi_t),
                           "t": list(lo_t) + list(hi_t), "s": list(lo_s) + list(hi_s)})
    cscale = alt.Scale(domain=km_groups, range=[C_LOW, C_HIGH])
    lines = alt.Chart(curves).mark_line(interpolate="step-after", strokeWidth=1.1).encode(
        x=alt.X("t:Q", scale=xs, axis=None), y=alt.Y("s:Q", scale=ys, axis=None),
        color=alt.Color("grp:N", scale=cscale, legend=None))
    cens = pd.DataFrame({"grp": [km_groups[0]] * len(lct) + [km_groups[1]] * len(hct),
                         "t": list(lct) + list(hct), "s": list(lcs) + list(hcs)})
    marks = alt.Chart(cens).mark_point(shape=PLUS, size=36, filled=False, strokeWidth=1, opacity=1).encode(
        x=alt.X("t:Q", scale=xs, axis=None), y=alt.Y("s:Q", scale=ys, axis=None),
        color=alt.Color("grp:N", scale=cscale, legend=None))
    leg_kw = dict(orient="none", legendX=X(ox + 220), legendY=Y(958), title=None, labelFont=FONT,
                  labelFontSize=7.2, rowPadding=0, labelOffset=4, padding=0, symbolStrokeWidth=1,
                  labelLimit=0)
    leg = alt.Chart(pd.DataFrame({"k": km_legend})).transform_filter("false").mark_point(
        filled=False, size=36, strokeWidth=1, opacity=1).encode(
        color=alt.Color("k:N", scale=alt.Scale(domain=km_legend, range=[C_LOW, C_HIGH, C_LOW, C_HIGH]),
                        legend=alt.Legend(**leg_kw)),
        shape=alt.Shape("k:N", scale=alt.Scale(domain=km_legend, range=[LEG_STEP, LEG_STEP, LEG_PLUS, LEG_PLUS]),
                        legend=alt.Legend(**leg_kw)))
    yax = yaxis(ys, km_y_ticks, km_y_tick_labels, ox, 943, 1160, tick=4, pad=3, fs=8, domain=False)
    xax = xaxis(xs, km_x_ticks, km_x_tick_labels, 1160, ox, ox + 218, tick=4, pad=2, fs=8, domain=False)
    return alt.layer(frame, lines, marks, leg, *yax, *xax,
                     ytitle(ytitle_text, ox - 23, 1050, size=7.5),
                     note(xtitle, ox + 120, 1185, size=8)).resolve_scale(color="independent",
                                                                        shape="independent")


# ---------------- annotations ----------------
def letters():
    out = []
    for t, x, y in [("A", 8, 15), ("B", 333, 15), ("C", 310, 198), ("D", 8, 481), ("E", 228, 481),
                    ("F", 458, 479), ("G", 8, 723), ("H", 283, 723), ("I", 457, 723), ("J", 8, 935)]:
        out.append(note(t, x, y, size=16, fontWeight="bold", align="left"))
    return out


annotations = letters() + p_note(460, 12, 10) + p_note(362, 506, 7.5) + p_note(171, 700, 11) + [
    note("Size of each list", 155, 304, size=6.5, fontStyle="italic"),
    note("Number of elements: specific (1) or shared by 2, 3, ... lists", 158, 400, size=6.3, fontStyle="italic"),
    note("Expression of FSCN1 in ESCA based on major cancer stages", 519, 193, size=10),
    note("type", 637, 465.5, size=5.5, align="left"),
    note("Survival functions", 155, 937, size=8),
    note("Survival functions", 507, 937, size=8),
    note("Expression", 287, 950, size=8.5),
    note("Expression", 639, 950, size=8.5),
]

panels = [
    panel_A_venn(), panel_A_sizes(), panel_A_shared(), panel_B(), panel_C(), panel_D(), panel_E(),
    panel_F(), panel_F_dendro(), panel_G(), panel_H(), panel_I(),
    km_panel(35, dfs_low_t, dfs_low_s, dfs_high_t, dfs_high_s, dfs_low_cens_t, dfs_low_cens_s,
             dfs_high_cens_t, dfs_high_cens_s, "DFS time (month)", "DFS survival"),
    km_panel(387, os_low_t, os_low_s, os_high_t, os_high_s, os_low_cens_t, os_low_cens_s,
             os_high_cens_t, os_high_cens_s, "OS time (month)", "OS survival"),
]

chart = alt.layer(*panels, *annotations).resolve_scale(
    x="independent", y="independent", color="independent", fill="independent", stroke="independent",
    shape="independent", size="independent"
).resolve_legend(
    color="independent", shape="independent", fill="independent", stroke="independent", size="independent"
).properties(
    width=W, height=H, padding=0, autosize=alt.AutoSizeParams(type="none"), background="white"
).configure(font=FONT).configure_view(stroke=None).configure_legend(
    titleFontWeight="normal", labelFont=FONT, titleFont=FONT)

chart.save("out.html", embed_options={"renderer": "svg", "actions": False})
